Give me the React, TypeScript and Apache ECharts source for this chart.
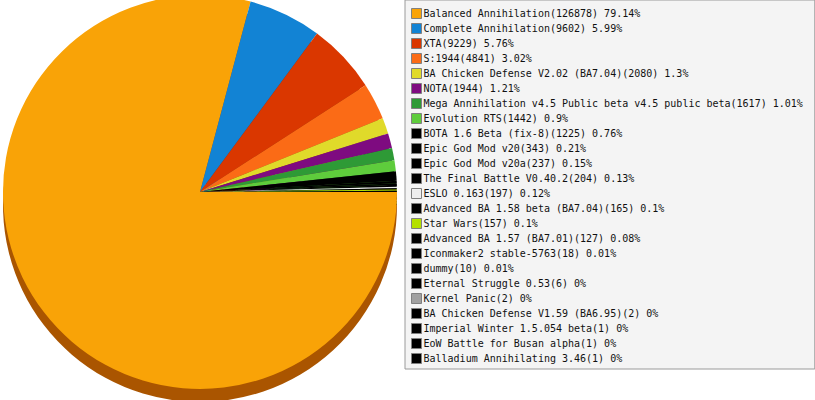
import React, { useEffect, useRef } from "react";
import * as echarts from "echarts";

const names = [
  "Balanced Annihilation",
  "Complete Annihilation",
  "XTA",
  "S:1944",
  "BA Chicken Defense V2.02 (BA7.04)",
  "NOTA",
  "Mega Annihilation v4.5 Public beta v4.5 public beta",
  "Evolution RTS",
  "BOTA 1.6 Beta (fix-8)",
  "Epic God Mod v20",
  "Epic God Mod v20a",
  "The Final Battle V0.40.2",
  "ESLO 0.163",
  "Advanced BA 1.58 beta (BA7.04)",
  "Star Wars",
  "Advanced BA 1.57 (BA7.01)",
  "Iconmaker2 stable-5763",
  "dummy",
  "Eternal Struggle 0.53",
  "Kernel Panic",
  "BA Chicken Defense V1.59 (BA6.95)",
  "Imperial Winter 1.5.054 beta",
  "EoW Battle for Busan alpha",
  "Balladium Annihilating 3.46",
];

const values = [
  126878, 9602, 9229, 4841, 2080, 1944, 1617, 1442, 1225, 343, 237, 204, 197,
  165, 157, 127, 18, 10, 6, 2, 2, 1, 1, 1,
];

const colors = [
  "#f9a307", "#1283d4", "#da3700", "#fb6b16", "#e0da2a", "#7e0b80",
  "#2e9a36", "#5ecc3c", "#000000", "#000000", "#000000", "#000000",
  "#eeeeee", "#000000", "#b4e000", "#000000", "#000000", "#000000",
  "#000000", "#a0a0a0", "#000000", "#000000", "#000000", "#000000",
];

const sideColors = [
  "#aa5500", "#0a4f85", "#852000", "#9a3d08", "#8a8518", "#4a064b",
  "#1b5c20", "#387a24", "#000000", "#000000", "#000000", "#000000",
  "#8f8f8f", "#000000", "#6c8700", "#000000", "#000000", "#000000",
  "#000000", "#606060", "#000000", "#000000", "#000000", "#000000",
];

export default function App() {
  const ref = useRef<HTMLDivElement>(null);
  useEffect(() => {
    document.body.style.margin = "0";
    if (!ref.current) return;
    const chart = echarts.init(ref.current, undefined, { renderer: "svg" });
    const total = values.reduce((a, b) => a + b, 0);
    const valueByName: Record<string, number> = {};
    names.forEach((n, i) => (valueByName[n] = values[i]));
    const mainData = names.map((n, i) => ({
      name: n,
      value: values[i],
      itemStyle: { color: colors[i] },
    }));
    const sideData = names.map((n, i) => ({
      name: n,
      value: values[i],
      itemStyle: { color: sideColors[i] },
    }));
    chart.setOption({
      animation: false,
      legend: {
        orient: "vertical",
        left: 405,
        top: 0,
        padding: [8, 12, 5, 6],
        itemWidth: 10,
        itemHeight: 10,
        itemGap: 4,
        icon: "rect",
        selectedMode: false,
        backgroundColor: "#f4f4f4",
        borderColor: "#9a9a9a",
        borderWidth: 1,
        itemStyle: { borderColor: "#808080", borderWidth: 1 },
        data: names,
        textStyle: {
          fontFamily: "DejaVu Sans Mono",
          fontSize: 10,
          lineHeight: 10,
          color: "#111",
          padding: [0, 0, 0, -3],
        },
        formatter: (name: string) => {
          const v = valueByName[name];
          const pct = Math.round((v / total) * 10000) / 100;
          return `${name}(${v}) ${pct}%`;
        },
      },
      series: [
        {
          type: "pie",
          center: [200, 192],
          radius: 197,
          startAngle: 0,
          clockwise: true,
          z: 3,
          silent: true,
          label: { show: false },
          labelLine: { show: false },
          itemStyle: { borderWidth: 0 },
          emphasis: { disabled: true },
          data: mainData,
        },
        {
          type: "pie",
          center: [200, 205],
          radius: 197,
          startAngle: 0,
          clockwise: true,
          z: 1,
          silent: true,
          label: { show: false },
          labelLine: { show: false },
          itemStyle: { borderWidth: 0 },
          emphasis: { disabled: true },
          data: sideData,
        },
      ],
    });
    return () => chart.dispose();
  }, []);
  return <div ref={ref} style={{ width: 815, height: 400 }} />;
}
